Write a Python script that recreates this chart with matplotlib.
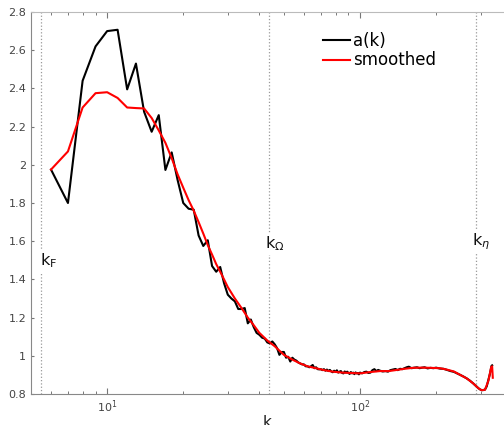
import matplotlib.pyplot as plt
from matplotlib.ticker import FormatStrFormatter, LogLocator

# a(k) raw spectrum ratio
k_raw = [6, 7, 8, 9, 10, 11, 12, 13, 14, 15, 16, 17, 18, 19, 20, 21, 22, 23, 24, 25,
         26, 27, 28, 29, 30, 31, 32, 33, 34, 35, 36, 37, 38, 39, 40, 41, 42, 43, 44, 45,
         46, 47, 48, 49, 50, 51, 52, 53, 54, 55, 56, 57, 58, 59, 60, 61, 62, 63, 64, 65,
         66, 67, 68, 69, 70, 71, 72, 73, 74, 75, 76, 77, 78, 79, 80, 81, 82, 83, 84, 85,
         86, 87, 88, 89, 90, 91, 92, 93, 94, 95, 96, 97, 98, 99, 100,
         102, 104, 106, 108, 110, 112, 114, 116, 118, 120, 123, 126, 129, 132, 135, 138,
         141, 144, 147, 150, 153, 156, 160, 164, 168, 172, 176, 180, 185, 190, 195, 200,
         207, 214, 221, 228, 235, 242, 249, 256, 264, 272, 280, 287, 294, 300, 306, 312,
         317, 322, 327, 331, 333]
a_raw = [1.975, 1.80, 2.44, 2.62, 2.70, 2.707, 2.395, 2.53, 2.278, 2.173, 2.26, 1.973,
         2.065, 1.92, 1.80, 1.77, 1.765, 1.63, 1.575, 1.605, 1.47, 1.44, 1.465, 1.38, 1.32,
         1.30, 1.285, 1.245, 1.245, 1.25, 1.17, 1.19, 1.15, 1.12, 1.11, 1.095, 1.09, 1.07,
         1.065, 1.075, 1.06, 1.04, 1.005, 1.02, 1.02, 0.99, 0.995, 0.97, 0.99, 0.98, 0.975,
         0.965, 0.96, 0.955, 0.955, 0.945, 0.945, 0.94, 0.945, 0.952, 0.935, 0.94, 0.93,
         0.929, 0.93, 0.925, 0.93, 0.922, 0.928, 0.92, 0.926, 0.918, 0.914, 0.922, 0.916,
         0.924, 0.912, 0.917, 0.92, 0.91, 0.908, 0.918, 0.912, 0.917, 0.91, 0.905, 0.915,
         0.908, 0.912, 0.904, 0.913, 0.908, 0.91, 0.903, 0.912,
         0.908, 0.915, 0.917, 0.91, 0.912, 0.925, 0.93, 0.92, 0.926, 0.922, 0.918, 0.92,
         0.917, 0.925, 0.928, 0.931, 0.925, 0.932, 0.93, 0.935, 0.94, 0.943, 0.935, 0.938,
         0.94, 0.935, 0.938, 0.94, 0.934, 0.937, 0.935, 0.938, 0.933, 0.932, 0.926, 0.92,
         0.916, 0.908, 0.90, 0.892, 0.882, 0.87, 0.856, 0.843, 0.83, 0.822, 0.82, 0.823,
         0.84, 0.875, 0.91, 0.947, 0.95]

# smoothed curve
k_smooth = [6, 7, 8, 9, 10, 11, 12, 13, 14, 15, 16, 17, 18, 19, 20, 21, 22, 23, 24, 25,
            26, 27, 28, 29, 30, 32, 34, 36, 38, 40, 43, 46, 50, 54, 58, 62, 67, 72, 78,
            85, 92, 100, 110, 120, 130, 140, 150, 162, 175, 190, 207, 220, 235, 249, 264,
            280, 294, 302, 312, 322, 330, 333, 335]
a_smooth = [1.975, 2.07, 2.30, 2.375, 2.38, 2.35, 2.30, 2.297, 2.295, 2.245, 2.18, 2.115,
            2.035, 1.95, 1.88, 1.815, 1.76, 1.70, 1.64, 1.58, 1.53, 1.48, 1.44, 1.40, 1.36,
            1.30, 1.25, 1.20, 1.16, 1.12, 1.08, 1.05, 1.005, 0.98, 0.96, 0.945, 0.935,
            0.925, 0.917, 0.912, 0.91, 0.908, 0.915, 0.92, 0.92, 0.926, 0.932, 0.937,
            0.938, 0.937, 0.935, 0.928, 0.918, 0.90, 0.882, 0.856, 0.83, 0.82, 0.822,
            0.87, 0.94, 0.945, 0.885]

# characteristic wavenumbers
k_marks = [5.5, 43.8, 287]
k_names = [r'k$_\mathrm{F}$', r'k$_\Omega$', r'k$_\eta$']
k_label_y = [1.50, 1.585, 1.596]
k_label_dx = [-1, -3, -3]

fig = plt.figure(figsize=(5.04, 4.25), dpi=100)
ax = fig.add_axes([31 / 504, 1 - 394 / 425, 1 - 31 / 504, (394 - 12) / 425])

for km in k_marks:
    ax.axvline(km, color='#999999', linestyle=':', linewidth=0.9, zorder=1)
for km, name, ly, dx in zip(k_marks, k_names, k_label_y, k_label_dx):
    ax.annotate(name, xy=(km, ly), xytext=(dx, 0), textcoords='offset points',
                ha='left', va='center', fontsize=11.5, color='#111111',
                bbox=dict(facecolor='white', edgecolor='none', pad=1.5), zorder=3)

ax.plot(k_raw, a_raw, color='black', linewidth=1.5, label='a(k)', zorder=4)
ax.plot(k_smooth, a_smooth, color='red', linewidth=1.5, label='smoothed', zorder=5)

ax.set_xscale('log')
ax.set_xlim(5, 371)
ax.set_ylim(0.8, 2.8)
ax.set_yticks([0.8, 1.0, 1.2, 1.4, 1.6, 1.8, 2.0, 2.2, 2.4, 2.6, 2.8])
ax.yaxis.set_major_formatter(FormatStrFormatter('%g'))
ax.xaxis.set_minor_locator(LogLocator(base=10, subs=range(2, 10)))

ax.tick_params(which='both', direction='in', top=True, right=False,
               labelsize=8, labelcolor='#444444', color='#777777')
ax.tick_params(which='major', length=4, width=0.8)
ax.tick_params(which='minor', length=2.5, width=0.7)
ax.tick_params(axis='y', which='major', length=2)

for side in ['left', 'bottom']:
    ax.spines[side].set_color('#888888')
ax.spines['top'].set_color('#bbbbbb')
ax.spines['right'].set_visible(False)

ax.set_xlabel('k', fontsize=11, color='#222222', labelpad=0)

ax.legend(loc='upper left', bbox_to_anchor=(0.6, 0.97), frameon=False, fontsize=12,
          handlelength=1.6, handletextpad=0.2, labelspacing=0.1, borderpad=0)

fig.savefig('out.png', dpi=100)
